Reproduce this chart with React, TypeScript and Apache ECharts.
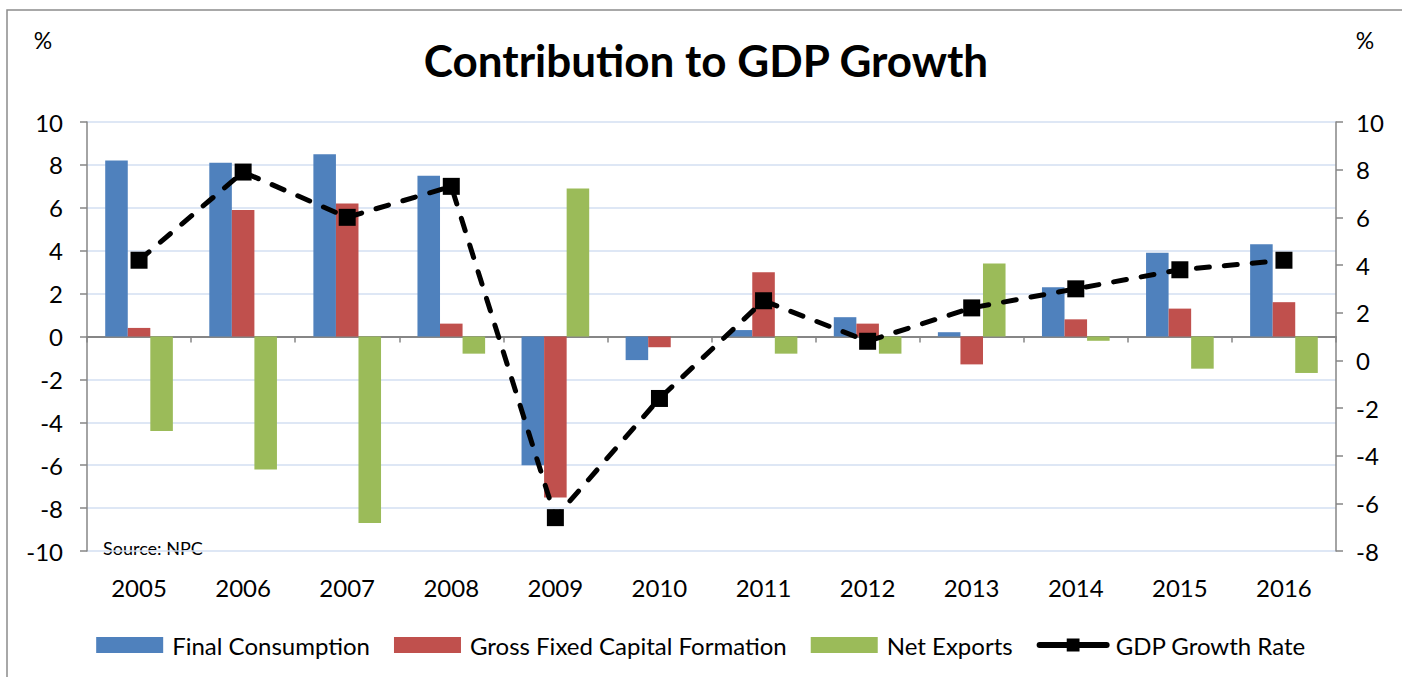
import React, { useEffect, useRef } from "react";
import * as echarts from "echarts";

const years = ["2005", "2006", "2007", "2008", "2009", "2010", "2011", "2012", "2013", "2014", "2015", "2016"];
const finalConsumption = [8.2, 8.1, 8.5, 7.5, -6.0, -1.1, 0.3, 0.9, 0.2, 2.3, 3.9, 4.3];
const grossFixedCapital = [0.4, 5.9, 6.2, 0.6, -7.5, -0.5, 3.0, 0.6, -1.3, 0.8, 1.3, 1.6];
const netExports = [-4.4, -6.2, -8.7, -0.8, 6.9, 0, -0.8, -0.8, 3.4, -0.2, -1.5, -1.7];
const gdpGrowth = [4.2, 7.9, 6.0, 7.3, -6.6, -1.6, 2.5, 0.8, 2.2, 3.0, 3.8, 4.2];

const FONT = "Lato, 'Open Sans', sans-serif";

export default function App() {
  const ref = useRef<HTMLDivElement>(null);
  useEffect(() => {
    if (!ref.current) return;
    const chart = echarts.init(ref.current, null, { renderer: "svg" });
    const axisGrey = "#868686";
    chart.setOption({
      animation: false,
      backgroundColor: "#ffffff",
      textStyle: { fontFamily: FONT },
      graphic: [
        {
          type: "rect",
          shape: { x: 7, y: 10, width: 1420, height: 700 },
          style: { fill: "none", stroke: "#8c8c8c", lineWidth: 1.5 },
          silent: true,
        },
        {
          type: "text",
          x: 706,
          y: 60,
          style: {
            text: "Contribution to GDP Growth",
            font: `bold 44px ${FONT}`,
            fill: "#000",
            align: "center",
            verticalAlign: "middle",
          },
        },
        {
          type: "text",
          x: 43,
          y: 40,
          style: { text: "%", font: `23px ${FONT}`, fill: "#000", align: "center", verticalAlign: "middle" },
        },
        {
          type: "text",
          x: 1365,
          y: 40,
          style: { text: "%", font: `23px ${FONT}`, fill: "#000", align: "center", verticalAlign: "middle" },
        },
        {
          type: "text",
          x: 103,
          y: 548,
          style: { text: "Source: NPC", font: `18px ${FONT}`, fill: "#000", align: "left", verticalAlign: "middle" },
        },
      ],
      grid: { left: 87, right: 66, top: 122, bottom: 126, containLabel: false },
      legend: {
        bottom: 15,
        left: "center",
        itemWidth: 67,
        itemHeight: 16,
        itemGap: 24,
        textStyle: { fontSize: 24, color: "#000", fontFamily: FONT, padding: [0, 0, 0, 4] },
        data: [
          { name: "Final Consumption", icon: "rect" },
          { name: "Gross Fixed Capital Formation", icon: "rect" },
          { name: "Net Exports", icon: "rect" },
          { name: "GDP Growth Rate", lineStyle: { type: "solid", width: 6, color: "#000" } },
        ],
      },
      xAxis: [
        {
          type: "category",
          data: years,
          position: "bottom",
          axisLine: { show: false, onZero: false },
          axisTick: { show: false },
          axisLabel: { fontSize: 24, color: "#000", margin: 24, fontFamily: FONT },
        },
        {
          type: "category",
          data: years,
          position: "bottom",
          axisLine: { show: true, onZero: true, onZeroAxisIndex: 0, lineStyle: { color: axisGrey, width: 2 } },
          axisTick: { show: true, length: 6, interval: 0, lineStyle: { color: axisGrey, width: 1.5 } },
          axisLabel: { show: false },
        },
      ],
      yAxis: [
        {
          type: "value",
          min: -10,
          max: 10,
          interval: 2,
          axisLine: { show: true, lineStyle: { color: axisGrey, width: 1.5 } },
          axisTick: { show: true, length: 7, lineStyle: { color: axisGrey, width: 1.5 } },
          axisLabel: { fontSize: 24, color: "#000", margin: 24, fontFamily: FONT },
          splitLine: { show: true, lineStyle: { color: "#d3dff2", width: 1.5 } },
        },
        {
          type: "value",
          min: -8,
          max: 10,
          interval: 2,
          position: "right",
          axisLine: { show: true, lineStyle: { color: axisGrey, width: 1.5 } },
          axisTick: { show: true, length: 7, lineStyle: { color: axisGrey, width: 1.5 } },
          axisLabel: { fontSize: 24, color: "#000", margin: 20, fontFamily: FONT },
          splitLine: { show: false },
        },
      ],
      series: [
        {
          name: "Final Consumption",
          type: "bar",
          data: finalConsumption,
          barGap: "0%",
          barCategoryGap: "35%",
          itemStyle: { color: "#4f81bd" },
        },
        {
          name: "Gross Fixed Capital Formation",
          type: "bar",
          data: grossFixedCapital,
          itemStyle: { color: "#c0504d" },
        },
        {
          name: "Net Exports",
          type: "bar",
          data: netExports,
          itemStyle: { color: "#9bbb59" },
        },
        {
          name: "GDP Growth Rate",
          type: "line",
          yAxisIndex: 1,
          data: gdpGrowth,
          symbol: "rect",
          symbolSize: 17,
          z: 5,
          itemStyle: { color: "#000" },
          lineStyle: { color: "#000", width: 5, type: [13, 15], cap: "round" },
        },
      ],
    });
    return () => chart.dispose();
  }, []);
  return (
    <div
      ref={ref}
      style={{ position: "fixed", left: 0, top: 0, width: 1402, height: 677 }}
    />
  );
}
